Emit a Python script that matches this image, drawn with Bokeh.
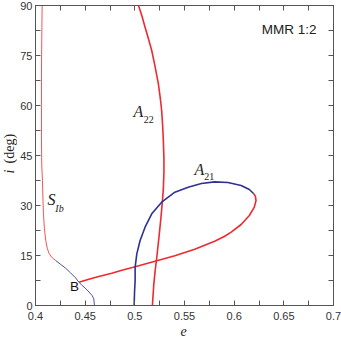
import math
from bokeh.plotting import figure
from bokeh.layouts import row, column
from bokeh.models import LinearAxis, FixedTicker, Label, Range1d
from bokeh.embed import file_html
from bokeh.resources import INLINE

# ---- data ----
sib_red_e = [0.4067, 0.4063, 0.4060, 0.4060, 0.4060, 0.4063, 0.4070, 0.4075, 0.4080, 0.4090,
             0.4103, 0.4118, 0.4137, 0.4165, 0.4203]
sib_red_i = [90, 80, 70, 60, 50, 42, 37.5, 32, 27.5, 23, 19.5, 17.2, 15.6, 14.4, 13.5]

sib_blue_e = [0.4203, 0.4250, 0.4303, 0.4353, 0.4403, 0.4437, 0.4470, 0.4500, 0.4527, 0.4570, 0.4587, 0.4593]
sib_blue_i = [13.5, 12.4, 11.2, 9.8, 8.3, 7.0, 6.0, 5.2, 4.4, 3.0, 2.0, 0]

a22_e = [0.5037, 0.5070, 0.5103, 0.5137, 0.5170, 0.5205, 0.5237, 0.5257, 0.5270, 0.5280, 0.5287,
         0.5293, 0.5293, 0.5287, 0.5277, 0.5260, 0.5243, 0.5223, 0.5203, 0.5190, 0.5177]
a22_i = [90, 87, 83.5, 80, 76.5, 71.5, 66.5, 62, 58.5, 54, 49.5, 44, 40, 35, 31, 25.5, 20.5, 15, 10, 6, 0]

a21_e = [0.4993, 0.4997, 0.5003, 0.5003, 0.5020, 0.5053, 0.5103, 0.5170, 0.5270, 0.5403, 0.5537,
         0.5670, 0.5803, 0.5937, 0.6070, 0.6153, 0.6195]
a21_i = [0, 4, 7.5, 11.5, 15.5, 19.5, 23.5, 27.5, 31, 34, 35.5, 36.6, 37.1, 36.9, 36, 34.8, 33.6]

br_e = [0.4437, 0.4537, 0.4637, 0.4767, 0.4870, 0.5003, 0.5203, 0.5403, 0.5603, 0.5803, 0.5900,
        0.5970, 0.6070, 0.6153, 0.6203, 0.6220, 0.6213, 0.6195]
br_i = [7.0, 7.9, 8.7, 9.7, 10.6, 11.6, 13.3, 14.9, 16.9, 19.3, 20.7, 22, 24.3, 27, 29.5, 31.5, 32.8, 33.6]

x_major = [0.4, 0.45, 0.5, 0.55, 0.6, 0.65, 0.7]
x_labels = ["0.4", "0.45", "0.5", "0.55", "0.6", "0.65", "0.7"]
x_minor = [0.425, 0.475, 0.525, 0.575, 0.625, 0.675]
y_major = [0, 15, 30, 45, 60, 75, 90]
y_labels = ["0", "15", "30", "45", "60", "75", "90"]
y_minor = [7.5, 22.5, 37.5, 52.5, 67.5, 82.5]

RED = "#EE2A2F"
BLUE = "#2E3192"
AX = "#555555"
TXT = "#333333"

W, H = 341, 337
LW = 17   # strip holding the vertical axis title
BH = 14   # strip holding the horizontal axis title
PH = H - BH

p = figure(width=W - LW, height=PH, output_backend="svg", toolbar_location=None,
           x_range=Range1d(0.4, 0.7), y_range=Range1d(0, 90),
           min_border_left=33 - LW, min_border_right=8, min_border_top=5,
           min_border_bottom=PH - 305,
           x_axis_location=None, y_axis_location=None)
p.grid.visible = False
p.outline_line_color = AX
p.background_fill_color = "white"
p.border_fill_color = "white"

def style_axis(ax, ticks, minor, labels, show):
    ax.ticker = FixedTicker(ticks=ticks, minor_ticks=minor)
    ax.major_tick_in = 5
    ax.major_tick_out = 0
    ax.minor_tick_in = 5
    ax.minor_tick_out = 0
    ax.axis_line_color = AX
    ax.major_tick_line_color = AX
    ax.minor_tick_line_color = AX
    if show:
        ax.major_label_overrides = {t: l for t, l in zip(ticks, labels)}
        ax.major_label_text_font = "Liberation Sans"
        ax.major_label_text_font_size = "11px"
        ax.major_label_text_color = TXT
    else:
        ax.major_label_overrides = {t: "" for t in ticks}
        ax.major_label_standoff = 0

xb = LinearAxis()
style_axis(xb, x_major, x_minor, x_labels, True)
xb.major_label_standoff = 6
p.add_layout(xb, "below")

yl = LinearAxis()
style_axis(yl, y_major, y_minor, y_labels, True)
yl.major_label_standoff = 3
p.add_layout(yl, "left")

xt = LinearAxis()
style_axis(xt, x_major, x_minor, x_labels, False)
p.add_layout(xt, "above")

yr = LinearAxis()
style_axis(yr, y_major, y_minor, y_labels, False)
p.add_layout(yr, "right")

# curves
p.line(sib_red_e, sib_red_i, line_color=RED, line_width=1, line_alpha=0.8)
p.line(sib_blue_e, sib_blue_i, line_color=BLUE, line_width=1, line_alpha=0.85)
p.line(a22_e, a22_i, line_color=RED, line_width=1.6)
p.line(br_e, br_i, line_color=RED, line_width=1.6)
p.line(a21_e, a21_i, line_color=BLUE, line_width=1.6)

# annotations
def lab(fig, x, y, t, size, font="Liberation Serif", style="italic", color="#222222", **kw):
    fig.add_layout(Label(x=x, y=y, text=t, text_font=font, text_font_style=style,
                         text_font_size=size, text_color=color, **kw))

lab(p, 0.4987, 55.6, "A", "16px")
lab(p, 0.5090, 54.8, "22", "10px", style="normal")
lab(p, 0.5600, 38.2, "A", "16px")
lab(p, 0.5700, 37.8, "21", "10px", style="normal")
lab(p, 0.4120, 29.4, "S", "16px")
lab(p, 0.4200, 27.6, "Ib", "10px")
lab(p, 0.4347, 3.6, "B", "13.5px", font="Liberation Sans", style="normal", color="#111111")
lab(p, 0.6830, 80.7, "MMR 1:2", "13.5px", font="Liberation Sans", style="normal",
    color="#222222", text_align="right")

def strip(w, h, xr, yr_, top, bottom):
    f = figure(width=w, height=h, output_backend="svg", toolbar_location=None,
               x_range=Range1d(*xr), y_range=Range1d(*yr_),
               min_border_left=0, min_border_right=0, min_border_top=top,
               min_border_bottom=bottom, x_axis_location=None, y_axis_location=None)
    f.grid.visible = False
    f.outline_line_color = None
    f.background_fill_color = "white"
    f.border_fill_color = "white"
    return f

# vertical axis title "i (deg)"
lf = strip(LW, PH, (0, LW), (0, 90), 5, PH - 305)
lab(lf, 9.0, 39.6, "i", "14px", angle=math.pi / 2, text_baseline="middle")
lab(lf, 9.0, 42.6, "(deg)", "14px", style="normal", angle=math.pi / 2, text_baseline="middle")

# horizontal axis title "e"
bf = strip(W, BH, (0, W), (0, BH), 0, 0)
lab(bf, 183, 7, "e", "14px", text_align="center", text_baseline="middle")

layout = column(row(lf, p, spacing=0), bf, spacing=0)
open("out.html", "w").write(file_html(layout, INLINE))
